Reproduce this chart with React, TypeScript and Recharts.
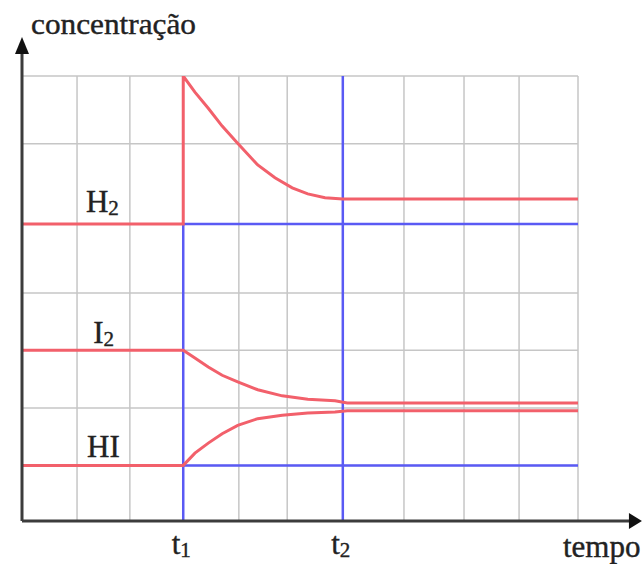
import { LineChart, Line, XAxis, YAxis, CartesianGrid, ReferenceLine, ReferenceDot, Label } from 'recharts'

// instantes da perturbação e do novo equilíbrio
const T1 = 2.9
const T2 = 5.77

// linhas da grade (irregulares como no desenho original)
const gridTimes = [0, 0.99, 1.94, 2.9, 3.9, 4.77, 5.77, 6.87, 7.95, 8.94, 10]
const gridConc = [0, 1.0, 2.03, 3.07, 4.1, 5.34, 6.78, 8]

const h2Time = [0, T1, T1, 3.11, 3.35, 3.6, 3.87, 4.24, 4.55, 4.86, 5.14, 5.45, T2, 10]
const h2Conc = [5.34, 5.34, 8.0, 7.71, 7.42, 7.1, 6.8, 6.4, 6.17, 5.99, 5.88, 5.81, 5.79, 5.79]

const i2Time = [0, T1, 3.11, 3.35, 3.6, 3.88, 4.24, 4.68, 5.14, 5.63, 5.85, 10]
const i2Conc = [3.07, 3.07, 2.93, 2.77, 2.62, 2.5, 2.36, 2.25, 2.19, 2.16, 2.12, 2.12]

const hiTime = [0, T1, 3.11, 3.35, 3.6, 3.88, 4.24, 4.68, 5.14, 5.63, 5.85, 10]
const hiConc = [1.0, 1.0, 1.22, 1.4, 1.57, 1.72, 1.84, 1.9, 1.94, 1.96, 1.98, 1.98]

// linhas azuis de referência (situação sem perturbação)
const blueH2 = [{ t: T1, c: 5.34 }, { t: 10, c: 5.34 }]
const blueHI = [{ t: T1, c: 1.0 }, { t: 10, c: 1.0 }]
const blueT1 = [{ t: T1, c: 0 }, { t: T1, c: 5.34 }]
const blueT2 = [{ t: T2, c: 0 }, { t: T2, c: 8 }]

const toPoints = (ts: number[], cs: number[]) => ts.map((t, i) => ({ t, c: cs[i] }))

const RED = '#f2606b'
const BLUE = '#5a5af4'
const AXIS = '#3c3c3c'
const INK = '#222'
const FONT = '"Liberation Serif", "Times New Roman", serif'

const tickLabels: Record<string, string> = { [T1]: '1', [T2]: '2' }

function TimeTick(props: any) {
  const { x, y, payload } = props
  const sub = tickLabels[payload.value]
  return (
    <text x={x - 2} y={y + 25} textAnchor="middle" fontFamily={FONT} fontSize={31} fill={INK} stroke={INK} strokeWidth={0.4}>
      t<tspan fontSize={21} dy={3}>{sub}</tspan>
    </text>
  )
}

const seriesLabel = (main: string, sub: string) => (p: any) => (
  <text x={p.cx} y={p.cy} fontFamily={FONT} fontSize={31} fill={INK} stroke={INK} strokeWidth={0.4}>
    {main}
    {sub ? <tspan fontSize={21} dy={3}>{sub}</tspan> : null}
  </text>
)

const UpArrow = (p: any) => (
  <g>
    <polygon points={`${p.cx},${p.cy} ${p.cx - 7},${p.cy + 17} ${p.cx + 7},${p.cy + 17}`} fill="#111" />
    <text
      x={p.cx + 9}
      y={p.cy - 3}
      fontFamily={FONT}
      fontSize={30}
      fill={INK}
      stroke={INK}
      strokeWidth={0.4}
      textLength={165}
      lengthAdjust="spacingAndGlyphs"
    >
      concentração
    </text>
  </g>
)

const RightArrow = (p: any) => (
  <polygon points={`${p.cx},${p.cy} ${p.cx - 13},${p.cy - 8} ${p.cx - 13},${p.cy + 8}`} fill="#111" />
)

export default function App() {
  return (
    <div style={{ position: 'absolute', left: 0, top: 0, background: '#fff' }}>
      <LineChart width={642} height={564} margin={{ top: 76, right: 64, bottom: 0, left: 22 }}>
        <CartesianGrid
          stroke="#c6c6c6"
          strokeWidth={1.5}
          horizontalValues={gridConc}
          verticalValues={gridTimes}
        />
        <XAxis
          type="number"
          dataKey="t"
          domain={[0, 10]}
          ticks={[T1, T2]}
          tick={<TimeTick />}
          axisLine={false}
          tickLine={false}
          height={43}
          allowDataOverflow
        >
          <Label
            content={(p: any) => (
              <text
                x={p.viewBox.x + p.viewBox.width - 15}
                y={p.viewBox.y + 36}
                fontFamily={FONT}
                fontSize={31}
                fill={INK}
                stroke={INK}
                strokeWidth={0.4}
              >
                tempo
              </text>
            )}
          />
        </XAxis>
        <YAxis type="number" dataKey="c" domain={[0, 8]} hide allowDataOverflow />

        <Line data={blueH2} dataKey="c" stroke={BLUE} strokeWidth={2.5} dot={false} isAnimationActive={false} />
        <Line data={blueHI} dataKey="c" stroke={BLUE} strokeWidth={2.5} dot={false} isAnimationActive={false} />
        <Line data={blueT1} dataKey="c" stroke={BLUE} strokeWidth={2.5} dot={false} isAnimationActive={false} />
        <Line data={blueT2} dataKey="c" stroke={BLUE} strokeWidth={2.5} dot={false} isAnimationActive={false} />

        <Line data={toPoints(h2Time, h2Conc)} dataKey="c" type="linear" stroke={RED} strokeWidth={3} dot={false} isAnimationActive={false} />
        <Line data={toPoints(i2Time, i2Conc)} dataKey="c" type="linear" stroke={RED} strokeWidth={3} dot={false} isAnimationActive={false} />
        <Line data={toPoints(hiTime, hiConc)} dataKey="c" type="linear" stroke={RED} strokeWidth={3} dot={false} isAnimationActive={false} />

        <ReferenceLine segment={[{ x: 0, y: 0 }, { x: 0, y: 8.5 }]} stroke={AXIS} strokeWidth={3} ifOverflow="visible" />
        <ReferenceLine segment={[{ x: 0, y: 0 }, { x: 10.95, y: 0 }]} stroke={AXIS} strokeWidth={3} ifOverflow="visible" />
        <ReferenceDot x={0} y={8.7} r={0} shape={UpArrow} ifOverflow="visible" />
        <ReferenceDot x={11.15} y={0} r={0} shape={RightArrow} ifOverflow="visible" />

        <ReferenceDot x={1.15} y={5.56} r={0} shape={seriesLabel('H', '2')} ifOverflow="visible" />
        <ReferenceDot x={1.28} y={3.2} r={0} shape={seriesLabel('I', '2')} ifOverflow="visible" />
        <ReferenceDot x={1.17} y={1.15} r={0} shape={seriesLabel('HI', '')} ifOverflow="visible" />
      </LineChart>
    </div>
  )
}
